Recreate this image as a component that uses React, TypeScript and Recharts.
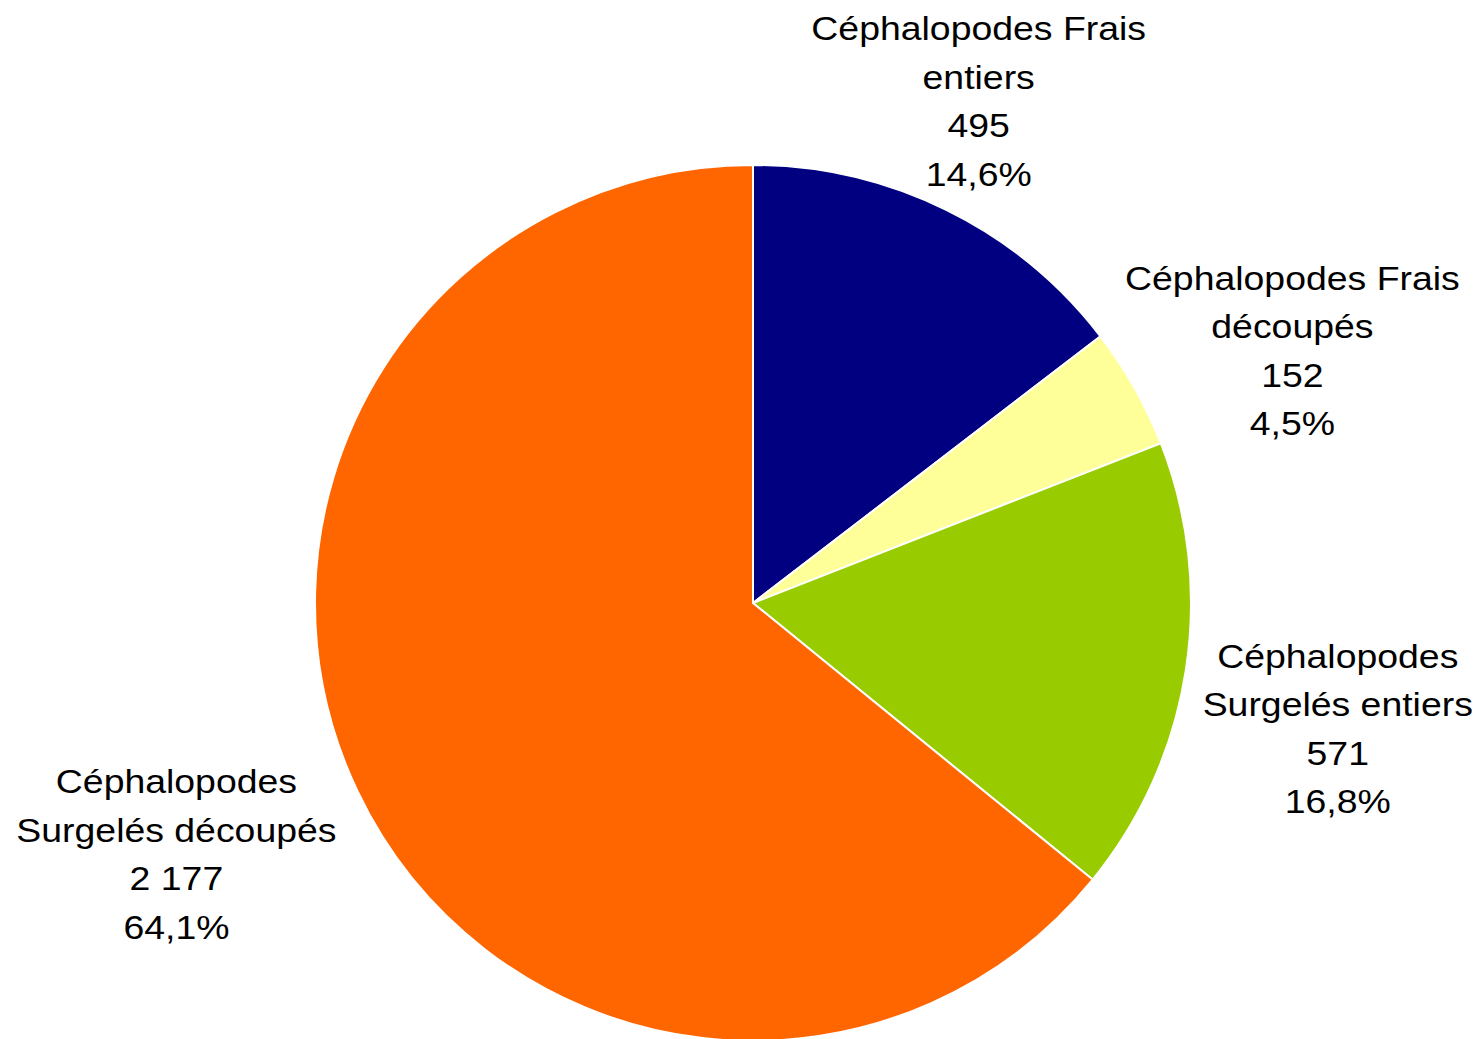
import React from 'react';
import { PieChart, Pie, Cell } from 'recharts';

// categories, clockwise from 12 o'clock
const CATEGORIES = [
    ['Céphalopodes Frais', 'entiers'],
    ['Céphalopodes Frais', 'découpés'],
    ['Céphalopodes', 'Surgelés entiers'],
    ['Céphalopodes', 'Surgelés découpés'],
];
const VALUES = [495, 152, 571, 2177];
const COLORS = ['#000080', '#FFFF99', '#99CC00', '#FF6600'];

// label block shift from the slice's outer edge (centre x, first baseline)
const LABEL_NUDGE = [
    { dx: 32, dy: -170 },
    { dx: 158, dy: -98 },
    { dx: 152, dy: -3 },
    { dx: -181, dy: 2 },
];

const TOTAL = VALUES.reduce((a, b) => a + b, 0);
const data = VALUES.map((v, i) => ({ name: CATEGORIES[i].join(' '), value: v }));

const fmtNum = (v: number) => String(v).replace(/\B(?=(\d{3})+(?!\d))/g, ' ');
const fmtPct = (v: number) => ((v / TOTAL) * 100).toFixed(1).replace('.', ',') + '%';

const RADIAN = Math.PI / 180;
const LINE_H = 48.6;

const renderLabel = (props: any) => {
    const { cx, cy, midAngle, outerRadius, index, value } = props;
    const ax = Number(cx) + outerRadius * Math.cos(-midAngle * RADIAN);
    const ay = Number(cy) + outerRadius * Math.sin(-midAngle * RADIAN);
    const x = ax + LABEL_NUDGE[index].dx;
    const y = ay + LABEL_NUDGE[index].dy;
    const lines = [...CATEGORIES[index], fmtNum(value), fmtPct(value)];
    return (
        <g key={'lbl' + index}>
            {lines.map((t, i) => (
                <text
                    key={i}
                    transform={`translate(${x},${y + i * LINE_H}) scale(1.1,1)`}
                    x={0}
                    y={0}
                    textAnchor="middle"
                    fontSize={34}
                    fontFamily='"Liberation Sans", Arial, sans-serif'
                    fill="#000"
                >
                    {t}
                </text>
            ))}
        </g>
    );
};

export default function App() {
    return (
        <div style={{ position: 'absolute', left: 0, top: 0, width: 1481, height: 1039, background: '#fff' }}>
            <PieChart width={1481} height={1039} margin={{ top: 0, right: 0, bottom: 0, left: 0 }}>
                <Pie
                    data={data}
                    dataKey="value"
                    cx={753}
                    cy={603}
                    outerRadius={438}
                    startAngle={90}
                    endAngle={-270}
                    stroke="#fff"
                    strokeWidth={2}
                    label={renderLabel}
                    labelLine={false}
                    isAnimationActive={false}
                >
                    {data.map((d, i) => (
                        <Cell key={d.name} fill={COLORS[i]} />
                    ))}
                </Pie>
            </PieChart>
        </div>
    );
}
